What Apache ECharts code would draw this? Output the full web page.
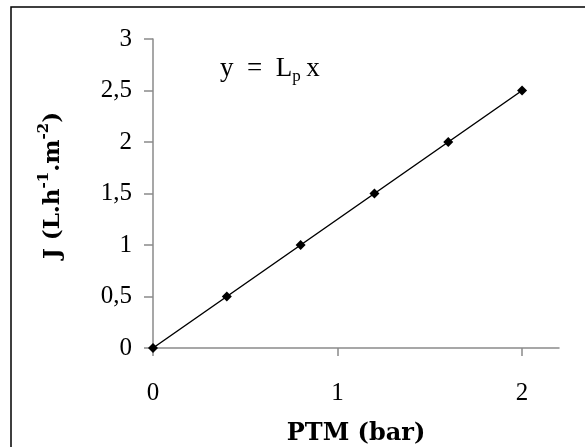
<!DOCTYPE html>
<html>
<head>
<meta charset="utf-8">
<script src="https://cdn.jsdelivr.net/npm/echarts@6/dist/echarts.min.js"></script>
<style>html,body{margin:0;padding:0;background:#fff}#c{width:585px;height:447px}</style>
</head>
<body>
<div id="c"></div>
<script>
var ptm = [0, 0.4, 0.8, 1.2, 1.6, 2.0];
var flux = [0, 0.5, 1.0, 1.5, 2.0, 2.5];
var xTicks = [0, 1, 2];
var yTicks = [0, 0.5, 1, 1.5, 2, 2.5, 3];

var FONT = '"Liberation Serif", serif';
var BFONT = '"DejaVu Serif", serif';
var axisGray = '#8a8a8a';
var data = ptm.map(function (x, i) { return [x, flux[i]]; });
function comma(v) { return String(v).replace('.', ','); }

var chart = echarts.init(document.getElementById('c'), null, {renderer: 'canvas'});
chart.setOption({
  backgroundColor: '#fff',
  animation: false,
  grid: {left: 153, right: 26, top: 39, bottom: 99, containLabel: false, outerBoundsMode: 'none'},
  xAxis: {
    type: 'value', min: 0, max: 2.2, interval: 1,
    splitLine: {show: false},
    axisLine: {show: true, onZero: false, lineStyle: {color: axisGray, width: 1.5}},
    axisTick: {show: true, length: 8, customValues: xTicks, lineStyle: {color: axisGray, width: 1.5}},
    axisLabel: {customValues: xTicks, margin: 33, color: '#000', fontFamily: FONT, fontSize: 25, formatter: comma},
    name: 'PTM (bar)', nameLocation: 'middle', nameGap: 74,
    nameTextStyle: {color: '#000', fontFamily: BFONT, fontSize: 24, fontWeight: 'bold'}
  },
  yAxis: {
    type: 'value', min: 0, max: 3, interval: 0.5,
    splitLine: {show: false},
    axisLine: {show: true, lineStyle: {color: axisGray, width: 1.5}},
    axisTick: {show: true, length: 9, customValues: yTicks, lineStyle: {color: axisGray, width: 1.5}},
    axisLabel: {customValues: yTicks, margin: 21, color: '#000', fontFamily: FONT, fontSize: 25, formatter: comma},
    name: '{b|J (L.h}{s|-1}{b|.m}{s|-2}{b|)}', nameLocation: 'middle', nameGap: 88,
    nameTextStyle: {
      color: '#000',
      padding: [0, 0, 0, 16],
      rich: {
        b: {fontFamily: BFONT, fontSize: 23, fontWeight: 'bold', color: '#000', lineHeight: 28, verticalAlign: 'bottom'},
        s: {fontFamily: BFONT, fontSize: 15, fontWeight: 'bold', color: '#000', lineHeight: 28, verticalAlign: 'top'}
      }
    }
  },
  graphic: [
    {type: 'rect', z: -10, silent: true, shape: {x: 11, y: 7, width: 700, height: 700},
     style: {fill: 'none', stroke: '#000', lineWidth: 1.5}},
    {type: 'text', left: 220, top: 53, z: 10,
     style: {
       text: '{a|y\u2002=\u2002L}{s|p}{a|\u2009x}',
       rich: {
         a: {fontFamily: FONT, fontSize: 27, fill: '#000', lineHeight: 32, verticalAlign: 'top', padding: [2, 0, 0, 0]},
         s: {fontFamily: FONT, fontSize: 17, fill: '#000', lineHeight: 32, verticalAlign: 'bottom'}
       }
     }}
  ],
  series: [{
    type: 'line', data: data,
    symbol: 'diamond', symbolSize: 10, showSymbol: true,
    lineStyle: {color: '#000', width: 1.5},
    itemStyle: {color: '#000'}
  }]
});
</script>
</body>
</html>
